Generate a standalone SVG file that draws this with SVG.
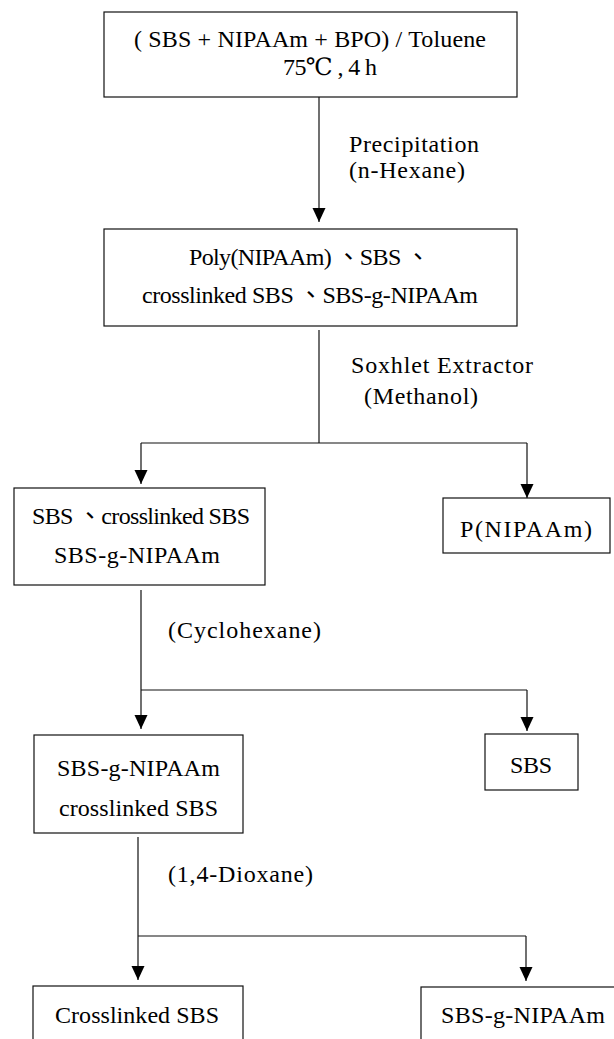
<svg xmlns="http://www.w3.org/2000/svg" width="614" height="1039" viewBox="0 0 614 1039">
<defs>
<marker id="ah" markerWidth="14" markerHeight="14" refX="14" refY="7" orient="auto" markerUnits="userSpaceOnUse"><path d="M0,0.5 L14,7 L0,13.5 z" fill="#000"/></marker>
<style>
.box{fill:#fff;stroke:#111;stroke-width:1.2}
.t{font-family:"Liberation Serif","Times New Roman",Times,"DejaVu Serif","Noto Sans CJK TC",serif;font-size:24px;fill:#000}
.c{fill:none;stroke:#111;stroke-width:1.2}
</style>
</defs>
<rect width="614" height="1039" fill="#fff"/>
<g id="connectors">
<path class="c" d="M319,97 V222" marker-end="url(#ah)"/>
<path class="c" d="M319,330 V443 M141,443 H527"/>
<path class="c" d="M141,443 V484" marker-end="url(#ah)"/>
<path class="c" d="M527,443 V498" marker-end="url(#ah)"/>
<path class="c" d="M141,590 V690 M141,690 H527"/>
<path class="c" d="M141,690 V729" marker-end="url(#ah)"/>
<path class="c" d="M527,690 V731" marker-end="url(#ah)"/>
<path class="c" d="M138,837 V936 M138,936 H526"/>
<path class="c" d="M138,936 V980" marker-end="url(#ah)"/>
<path class="c" d="M526,936 V981" marker-end="url(#ah)"/>
</g>
<g id="labels">
<text class="t" x="349" y="152" textLength="130" lengthAdjust="spacing">Precipitation</text>
<text class="t" x="349" y="178" textLength="116" lengthAdjust="spacing">(n-Hexane)</text>
<text class="t" x="351" y="373" textLength="182" lengthAdjust="spacing">Soxhlet Extractor</text>
<text class="t" x="364" y="404" textLength="114" lengthAdjust="spacing">(Methanol)</text>
<text class="t" x="168" y="638" textLength="153" lengthAdjust="spacing">(Cyclohexane)</text>
<text class="t" x="168" y="882" textLength="145" lengthAdjust="spacing">(1,4-Dioxane)</text>
</g>
<g id="n1">
<rect class="box" x="104" y="12" width="413" height="85"/>
<text class="t" x="134" y="47" textLength="352" lengthAdjust="spacing">( SBS + NIPAAm + BPO) / Toluene</text>
<text class="t" x="283" y="75" textLength="94" lengthAdjust="spacing">75℃ , 4 h</text>
</g>
<g id="n2">
<rect class="box" x="104" y="229" width="413" height="97"/>
<text class="t" x="189" y="265" textLength="241" lengthAdjust="spacing">Poly(NIPAAm) 、SBS 、</text>
<text class="t" x="142" y="303" textLength="336" lengthAdjust="spacing">crosslinked SBS 、SBS-g-NIPAAm</text>
</g>
<g id="n3">
<rect class="box" x="14" y="488" width="251" height="97"/>
<text class="t" x="32" y="524" textLength="218" lengthAdjust="spacing">SBS 、crosslinked SBS</text>
<text class="t" x="54" y="563" textLength="166" lengthAdjust="spacing">SBS-g-NIPAAm</text>
</g>
<g id="n4">
<rect class="box" x="443" y="498" width="167" height="55"/>
<text class="t" x="460" y="537" textLength="132" lengthAdjust="spacing">P(NIPAAm)</text>
</g>
<g id="n5">
<rect class="box" x="34" y="735" width="209" height="98"/>
<text class="t" x="57" y="776" textLength="163" lengthAdjust="spacing">SBS-g-NIPAAm</text>
<text class="t" x="59" y="816" textLength="159" lengthAdjust="spacing">crosslinked SBS</text>
</g>
<g id="n6">
<rect class="box" x="485" y="734" width="93" height="56"/>
<text class="t" x="510" y="773" textLength="42" lengthAdjust="spacing">SBS</text>
</g>
<g id="n7">
<rect class="box" x="33" y="986" width="210" height="80"/>
<text class="t" x="55" y="1023" textLength="164" lengthAdjust="spacing">Crosslinked SBS</text>
</g>
<g id="n8">
<rect class="box" x="421" y="987" width="210" height="80"/>
<text class="t" x="441" y="1023" textLength="164" lengthAdjust="spacing">SBS-g-NIPAAm</text>
</g>
</svg>
